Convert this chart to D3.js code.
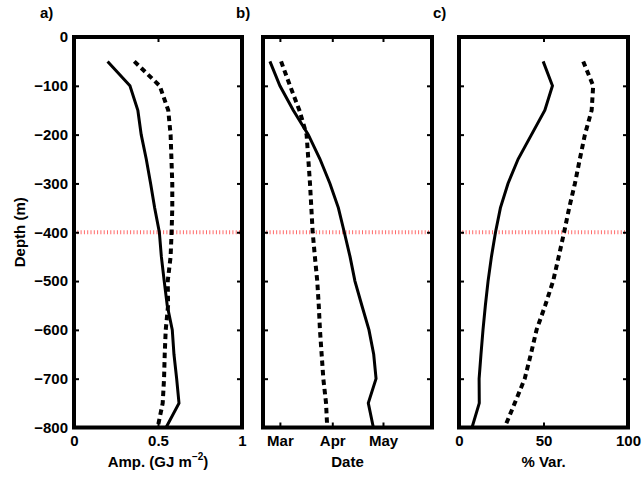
<!DOCTYPE html>
<html>
<head>
<meta charset="utf-8">
<script src="https://cdn.jsdelivr.net/npm/d3@7"></script>
<style>
  body { margin: 0; background: #fff; }
  text { font-family: "Liberation Sans", Arial, sans-serif; font-weight: bold; font-size: 15px; }
</style>
</head>
<body>
<div id="chart"></div>
<script>
// depth levels (m)
var depths = [-50, -100, -150, -200, -250, -300, -350, -400, -450, -500, -550, -600, -650, -700, -750, -800];

// a) amplitude (GJ m^-2)
var ampSolid = [0.20, 0.333, 0.38, 0.40, 0.43, 0.456, 0.48, 0.508, 0.52, 0.537, 0.555, 0.585, 0.595, 0.611, 0.625, 0.548];
var ampDashed = [0.359, 0.51, 0.561, 0.575, 0.58, 0.585, 0.585, 0.581, 0.575, 0.558, 0.56, 0.546, 0.54, 0.536, 0.528, 0.498];

// b) date of max (day of year)
var daySolid = [54.1, 60, 67.9, 76.8, 83.7, 89.6, 94.6, 98.1, 101.5, 104.4, 108.5, 112.7, 115.5, 116.9, 112.3, 115.3];
var dayDashed = [60.7, 66, 71.5, 75.8, 76.8, 77.8, 78.6, 79.4, 80.7, 82.1, 83, 83.7, 84.7, 85.7, 87.3, 88];

// c) percent variance
var varSolid = [49.8, 55.3, 50.8, 42.9, 35, 29, 24.5, 21.6, 19.2, 17.2, 15.6, 14.2, 13, 11.9, 12, 7.7];
var varDashed = [73.5, 79.4, 78.5, 74.5, 71.5, 68.6, 65.2, 62.2, 59, 55.7, 51, 45.9, 42.5, 38.9, 33, 27];

var depthTicks = [0, -100, -200, -300, -400, -500, -600, -700, -800];
var refDepth = -400;

var width = 643, height = 480;
var yTop = 37, yBottom = 427.5;

var svg = d3.select("#chart").append("svg")
    .attr("width", width)
    .attr("height", height);

var y = d3.scaleLinear().domain([0, -800]).range([yTop, yBottom]);

function doy(d) {
    var t = new Date(2001, 0, 1);
    t.setTime(t.getTime() + (d - 1) * 864e5);
    return t;
}

var panels = [
    {
        label: "a)", labelX: 40, left: 74, right: 242,
        x: d3.scaleLinear().domain([0, 1]),
        ticks: [0, 0.5, 1], fmt: function (d) { return d === 0.5 ? "0.5" : d; },
        solid: ampSolid, dashed: ampDashed, conv: function (v) { return v; },
        xlabel: "amp"
    },
    {
        label: "b)", labelX: 236, left: 263, right: 432,
        x: d3.scaleTime().domain([doy(50), doy(150)]),
        ticks: [new Date(2001, 2, 1), new Date(2001, 3, 1), new Date(2001, 4, 1)],
        fmt: d3.timeFormat("%b"),
        solid: daySolid, dashed: dayDashed, conv: doy,
        xlabel: "Date"
    },
    {
        label: "c)", labelX: 433, left: 459, right: 628,
        x: d3.scaleLinear().domain([0, 100]),
        ticks: [0, 50, 100], fmt: function (d) { return d; },
        solid: varSolid, dashed: varDashed, conv: function (v) { return v; },
        xlabel: "% Var."
    }
];

function styleAxis(a) {
    a.select(".domain").remove();
    a.selectAll("line").attr("stroke-width", 2);
    a.selectAll("text").attr("fill", "#000").style("font-size", "15px");
}

panels.forEach(function (p, i) {
    var x = p.x.range([p.left, p.right]);
    var g = svg.append("g");

    // reference depth line
    g.append("line")
        .attr("x1", p.left).attr("x2", p.right)
        .attr("y1", y(refDepth)).attr("y2", y(refDepth))
        .attr("stroke", "#ff6a6a")
        .attr("stroke-width", 4)
        .attr("stroke-dasharray", "1,2.3");

    var line = d3.line()
        .x(function (d) { return x(p.conv(d[0])); })
        .y(function (d) { return y(d[1]); });

    g.append("path")
        .datum(d3.zip(p.solid, depths))
        .attr("d", line)
        .attr("fill", "none")
        .attr("stroke", "#000")
        .attr("stroke-width", 3);

    g.append("path")
        .datum(d3.zip(p.dashed, depths))
        .attr("d", line)
        .attr("fill", "none")
        .attr("stroke", "#000")
        .attr("stroke-width", 4)
        .attr("stroke-dasharray", "5.5,4");

    // ticks on all sides, pointing inward
    g.append("g").attr("transform", "translate(0," + yBottom + ")")
        .call(d3.axisBottom(x).tickValues(p.ticks).tickSize(-5).tickFormat(p.fmt).tickPadding(8))
        .call(styleAxis);
    g.append("g").attr("transform", "translate(0," + yTop + ")")
        .call(d3.axisTop(x).tickValues(p.ticks).tickSize(-5).tickFormat(""))
        .call(styleAxis);
    g.append("g").attr("transform", "translate(" + p.left + ",0)")
        .call(d3.axisLeft(y).tickValues(depthTicks).tickSize(-5)
            .tickFormat(i === 0 ? function (d) { return d === 0 ? "0" : "\u2212" + (-d); } : "").tickPadding(6))
        .call(styleAxis);
    g.append("g").attr("transform", "translate(" + p.right + ",0)")
        .call(d3.axisRight(y).tickValues(depthTicks).tickSize(-5).tickFormat(""))
        .call(styleAxis);

    // frame
    g.append("rect")
        .attr("x", p.left).attr("y", yTop)
        .attr("width", p.right - p.left).attr("height", yBottom - yTop)
        .attr("fill", "none")
        .attr("stroke", "#000")
        .attr("stroke-width", 4);

    // panel label
    svg.append("text")
        .attr("x", p.labelX).attr("y", 18)
        .text(p.label);

    // x label
    var xl = svg.append("text")
        .attr("x", (p.left + p.right) / 2).attr("y", 467)
        .attr("text-anchor", "middle");
    if (p.xlabel === "amp") {
        xl.append("tspan").text("Amp. (GJ m");
        xl.append("tspan").attr("dy", -7).style("font-size", "10px").text("\u22122");
        xl.append("tspan").attr("dy", 7).text(")");
    } else {
        xl.text(p.xlabel);
    }
});

svg.append("text")
    .attr("transform", "translate(25," + (yTop + yBottom) / 2 + ") rotate(-90)")
    .attr("text-anchor", "middle")
    .text("Depth (m)");
</script>
</body>
</html>
